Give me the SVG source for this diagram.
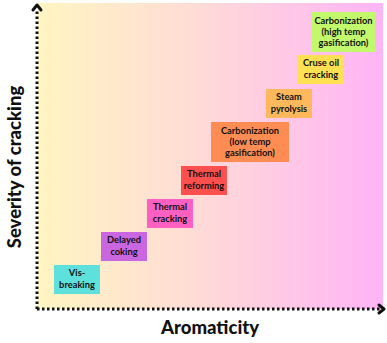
<svg xmlns="http://www.w3.org/2000/svg" width="387" height="343" viewBox="0 0 387 343">
<defs>
<linearGradient id="bg" x1="0" y1="0" x2="1" y2="0">
<stop offset="0" stop-color="#fff5c2"/>
<stop offset="0.45" stop-color="#ffdcd6"/>
<stop offset="1" stop-color="#ffb4f7"/>
</linearGradient>
</defs>
<style>
.box{stroke:none}
.t{font-family:"Lato","Liberation Sans",sans-serif;font-weight:bold;font-size:9.3px;fill:#111;text-anchor:middle}
.ax{fill:none;stroke:#111;stroke-width:3;stroke-dasharray:2.5 2.5}
.ah{fill:none;stroke:#111;stroke-width:3;stroke-linecap:round;stroke-linejoin:round}
.lab{font-family:"Lato","Liberation Sans",sans-serif;font-weight:900;font-size:18.5px;fill:#111;text-anchor:middle}
</style>
<rect x="38" y="3" width="345" height="306" fill="url(#bg)"/>
<g id="axes">
<line class="ax" x1="37" y1="309" x2="37" y2="9"/>
<polyline class="ah" points="33,10 37,5 41,10"/>
<line class="ax" x1="37" y1="309" x2="380" y2="309"/>
<polyline class="ah" points="379,305 384,309 379,313"/>
</g>
<text class="lab" transform="translate(21,167) rotate(-90)">Severity of cracking</text>
<text class="lab" x="210" y="334">Aromaticity</text>
<g id="vis-breaking">
<rect class="box" x="54" y="265" width="46" height="29" fill="#5ee0dc"/>
<text class="t" x="77" y="276">Vis-</text>
<text class="t" x="77" y="287.5">breaking</text>
</g>
<g id="delayed-coking">
<rect class="box" x="101" y="232" width="46" height="29" fill="#c966e0"/>
<text class="t" x="124" y="243">Delayed</text>
<text class="t" x="124" y="254.5">coking</text>
</g>
<g id="thermal-cracking">
<rect class="box" x="147" y="199" width="46" height="29" fill="#ff60c2"/>
<text class="t" x="170" y="210">Thermal</text>
<text class="t" x="170" y="221.5">cracking</text>
</g>
<g id="thermal-reforming">
<rect class="box" x="181" y="166" width="46" height="29" fill="#ff5050"/>
<text class="t" x="204" y="177">Thermal</text>
<text class="t" x="204" y="188.5">reforming</text>
</g>
<g id="carbonization-low">
<rect class="box" x="211" y="122" width="78" height="40" fill="#ff8c52"/>
<text class="t" x="250" y="133.5">Carbonization</text>
<text class="t" x="250" y="144.5">(low temp</text>
<text class="t" x="250" y="155.5">gasification)</text>
</g>
<g id="steam-pyrolysis">
<rect class="box" x="266" y="89" width="46" height="29" fill="#ffb85c"/>
<text class="t" x="289" y="100">Steam</text>
<text class="t" x="289" y="111.5">pyrolysis</text>
</g>
<g id="cruse-oil-cracking">
<rect class="box" x="298" y="55" width="46" height="29" fill="#ffe052"/>
<text class="t" x="321" y="66">Cruse oil</text>
<text class="t" x="321" y="77.5">cracking</text>
</g>
<g id="carbonization-high">
<rect class="box" x="312" y="12" width="63" height="40" fill="#c2f86c"/>
<text class="t" x="343.5" y="23.5">Carbonization</text>
<text class="t" x="343.5" y="34.5">(high temp</text>
<text class="t" x="343.5" y="45.5">gasification)</text>
</g>
</svg>
